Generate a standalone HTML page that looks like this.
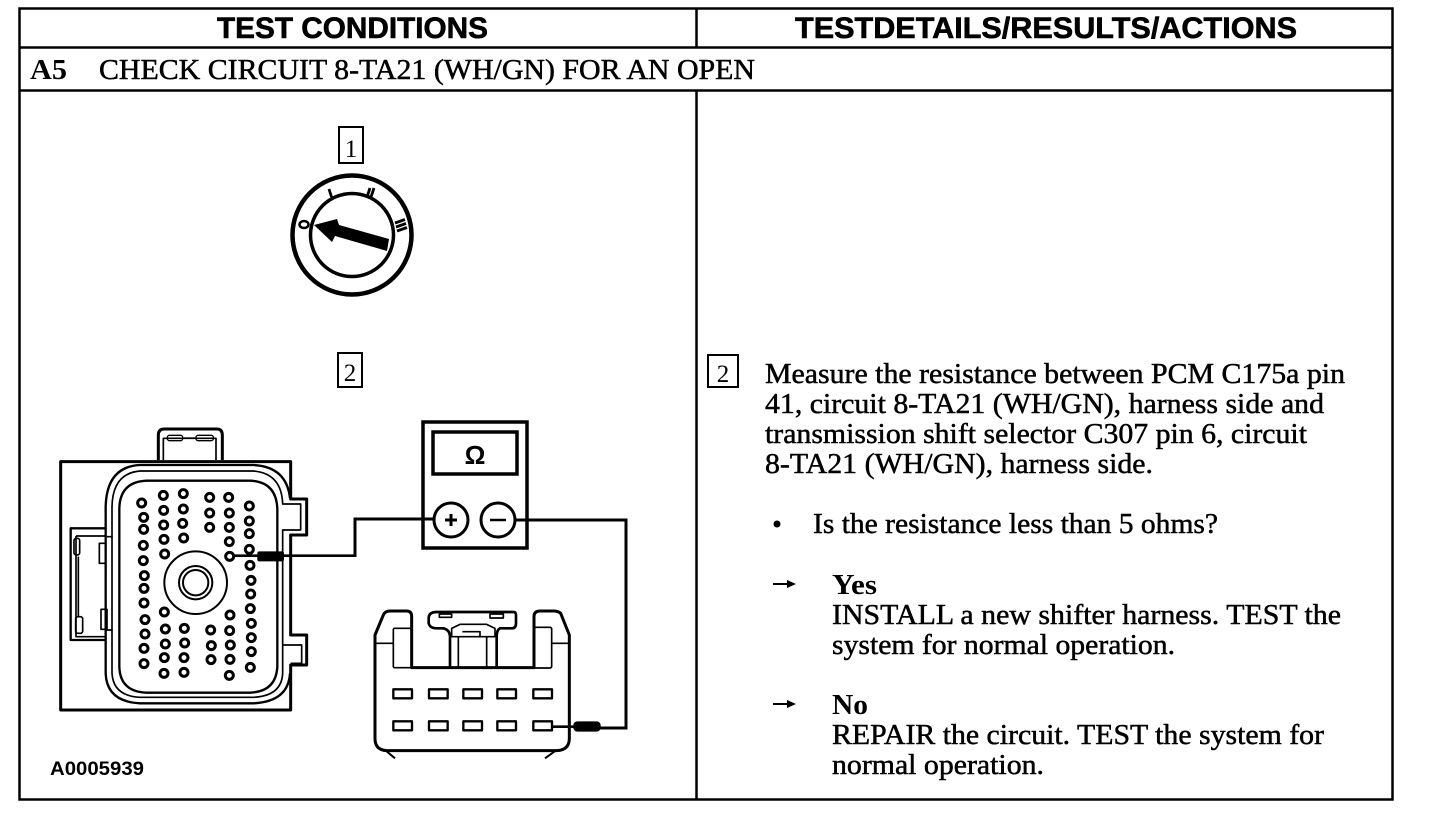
<!DOCTYPE html>
<html><head><meta charset="utf-8"><style>
html,body{margin:0;padding:0;background:#fff;width:1440px;height:818px;overflow:hidden}
svg{display:block}
.h{font:bold 30px "Liberation Sans",sans-serif}
.t{font:bold 28px "Liberation Serif",serif}
.s{font:29px "Liberation Serif",serif}
text{fill:#000}
</style></head><body>
<svg width="1440" height="818" viewBox="0 0 1440 818" xmlns="http://www.w3.org/2000/svg">
<g fill="none" stroke="#000" stroke-width="2.5">
<rect x="19.500" y="8.500" width="1373" height="791"/>
<path d="M19 47.500H1393M19 90.500H1393M696.500 8V47M696.500 90V800"/>
</g>
<text class="h" x="217" y="38" textLength="271" lengthAdjust="spacingAndGlyphs" stroke="#000" stroke-width=".6">TEST CONDITIONS</text>
<text class="h" x="795" y="38" textLength="502" lengthAdjust="spacingAndGlyphs" stroke="#000" stroke-width=".6">TESTDETAILS/RESULTS/ACTIONS</text>
<text class="t" x="30" y="79" textLength="37" lengthAdjust="spacingAndGlyphs">A5</text>
<text class="s" x="99" y="79" textLength="656" lengthAdjust="spacingAndGlyphs" stroke="#000" stroke-width=".5">CHECK CIRCUIT 8-TA21 (WH/GN) FOR AN OPEN</text>

<!-- numbered boxes -->
<g fill="none" stroke="#000" stroke-width="2">
<rect x="339" y="127" width="24" height="36"/>
<rect x="338" y="353" width="24" height="34"/>
<rect x="708" y="355" width="30" height="32"/>
</g>
<text x="351" y="157" text-anchor="middle" style="font:25px 'Liberation Serif',serif">1</text>
<text x="350" y="381" text-anchor="middle" style="font:25px 'Liberation Serif',serif">2</text>
<text x="723" y="382" text-anchor="middle" style="font:25px 'Liberation Serif',serif">2</text>

<!-- ignition switch -->
<g fill="none" stroke="#000">
<circle cx="352" cy="235" r="59.500" stroke-width="4.500"/>
<circle cx="352" cy="235" r="41.500" stroke-width="3.500"/>
<path d="M329 189l2.500 8M374 188l-3 9M370 188l-3 9M395 223l10 -3.500M396 227l10 -3.500M397 231l10 -3.500" stroke-width="2.800"/>
<ellipse cx="304" cy="224.500" rx="4.500" ry="3.500" stroke-width="2.500"/>
</g>
<path d="M314 225L337 219L339 225L389 239L387 251L335 236L332 242Z" fill="#000"/>

<!-- left connector (coordinates from 3x crop) -->
<g transform="translate(40 410) scale(.33333)">
<g fill="none" stroke="#000" stroke-linejoin="round">
<path d="M355 150V75Q355 57 373 57H530Q547 57 547 75V150" stroke-width="9"/>
<path d="M370 150V85H528V150" stroke-width="5"/>
<rect x="382" y="76" width="46" height="16" rx="6" stroke-width="4"/>
<rect x="468" y="76" width="52" height="16" rx="6" stroke-width="4"/>
<path d="M428 84H468" stroke-width="4"/>
<path d="M62 155H752V267H800V375H752V675H800V765H752V900H62Z" stroke-width="9" fill="#fff"/>
<path d="M195 355H92V690H195" stroke-width="7" fill="#fff"/>
<path d="M108 378H195M108 378V680H195M115 440V620M200 380H218M200 660H218" stroke-width="5"/>
<rect x="102" y="385" width="17" height="50" rx="7" stroke-width="5"/>
<rect x="107" y="620" width="21" height="50" rx="7" stroke-width="5"/>
<rect x="178" y="400" width="18" height="60" stroke-width="5"/>
<rect x="183" y="598" width="18" height="60" stroke-width="5"/>
<path d="M300 165Q200 170 197 290V790Q200 875 300 880H640Q745 875 750 790M300 165H640Q740 170 750 265" stroke-width="7"/>
<path d="M640 183H300Q218 190 216 290V790Q220 858 300 862H640Q725 858 728 790V705H785V760H752M728 705V360H782V282H728Q725 190 640 183" stroke-width="5"/>
<path d="M320 212Q240 215 238 295V770Q240 845 320 848H630Q708 845 712 770V295Q708 215 630 212Z" stroke-width="7"/>
<circle cx="467" cy="518" r="94" stroke-width="6"/>
<circle cx="467" cy="518" r="50" stroke-width="6"/>
<circle cx="467" cy="518" r="38" stroke-width="6"/>
<g stroke-width="9">
<circle cx="305" cy="279" r="12"/><circle cx="311" cy="322" r="12"/><circle cx="311" cy="358" r="12"/><circle cx="310" cy="406" r="12"/><circle cx="310" cy="452" r="12"/><circle cx="313" cy="497" r="12"/><circle cx="312" cy="535" r="12"/><circle cx="312" cy="579" r="12"/><circle cx="315" cy="629" r="12"/><circle cx="315" cy="672" r="12"/><circle cx="312" cy="715" r="12"/><circle cx="312" cy="761" r="12"/>
<circle cx="370" cy="256" r="12"/><circle cx="371" cy="301" r="12"/><circle cx="371" cy="345" r="12"/><circle cx="372" cy="388" r="12"/><circle cx="374" cy="432" r="12"/><circle cx="373" cy="606" r="12"/><circle cx="376" cy="657" r="12"/><circle cx="376" cy="702" r="12"/><circle cx="373" cy="743" r="12"/><circle cx="372" cy="790" r="12"/>
<circle cx="430" cy="251" r="12"/><circle cx="430" cy="297" r="12"/><circle cx="428" cy="340" r="12"/><circle cx="431" cy="384" r="12"/><circle cx="433" cy="655" r="12"/><circle cx="434" cy="699" r="12"/><circle cx="432" cy="743" r="12"/><circle cx="432" cy="787" r="12"/>
<circle cx="509" cy="262" r="12"/><circle cx="509" cy="309" r="12"/><circle cx="509" cy="352" r="12"/><circle cx="512" cy="660" r="12"/><circle cx="514" cy="707" r="12"/><circle cx="513" cy="749" r="12"/>
<circle cx="566" cy="262" r="12"/><circle cx="568" cy="309" r="12"/><circle cx="568" cy="352" r="12"/><circle cx="568" cy="395" r="12"/><circle cx="569" cy="439" r="12"/><circle cx="570" cy="615" r="12"/><circle cx="569" cy="662" r="12"/><circle cx="571" cy="705" r="12"/><circle cx="570" cy="748" r="12"/><circle cx="568" cy="796" r="12"/>
<circle cx="628" cy="288" r="12"/><circle cx="628" cy="333" r="12"/><circle cx="628" cy="371" r="12"/><circle cx="628" cy="418" r="12"/><circle cx="630" cy="466" r="12"/><circle cx="633" cy="511" r="12"/><circle cx="632" cy="552" r="12"/><circle cx="631" cy="596" r="12"/><circle cx="634" cy="640" r="12"/><circle cx="634" cy="683" r="12"/><circle cx="634" cy="725" r="12"/><circle cx="631" cy="772" r="12"/>
</g>
<path d="M580 437H948" stroke-width="8"/>
</g>
<rect x="652" y="424" width="80" height="30" rx="6" fill="#000"/>
</g>

<!-- meter -->
<g fill="none" stroke="#000">
<rect x="423" y="422" width="104" height="126" stroke-width="3.500"/>
<rect x="433" y="432" width="84" height="42" stroke-width="3.500"/>
<circle cx="451" cy="520" r="17" stroke-width="3"/>
<circle cx="498" cy="520" r="17" stroke-width="3"/>
<path d="M451 514V526M445 520H457" stroke-width="3"/>
<path d="M490 520H506" stroke-width="2.500"/>
<path d="M355 557V519H434M515 520H626V728H590" stroke-width="3"/>
</g>
<text x="475" y="464" text-anchor="middle" style="font:bold 26px 'Liberation Sans',sans-serif">Ω</text>

<!-- right connector -->
<g transform="translate(340 410) scale(.33333)">
<g fill="none" stroke="#000" stroke-linejoin="round">
<path d="M105 675V985Q105 1020 140 1022H650Q688 1020 688 985V675L662 610Q655 603 640 603H600Q582 603 582 620V773H215V620Q215 603 200 603H150Q135 603 130 615Z" stroke-width="9"/>
<path d="M105 700H160M635 700H688M215 773V620" stroke-width="5"/>
<rect x="160" y="655" width="55" height="118" rx="4" stroke-width="5"/>
<rect x="582" y="652" width="53" height="122" rx="5" stroke-width="5"/>
<path d="M290 606H520Q528 606 528 615V640Q528 655 515 655H480Q470 660 470 680V773M290 606Q266 606 266 625V640Q270 655 290 655H310Q330 660 330 680V773" stroke-width="8"/>
<path d="M335 680V655L360 643H440L465 655V680ZM355 680V773M440 680V773M367 665H420V680M298 612H335V622H298ZM450 612H490V624H450Z" stroke-width="5"/>
<g stroke-width="7">
<rect x="160" y="838" width="56" height="27"/><rect x="267" y="838" width="56" height="27"/><rect x="370" y="838" width="56" height="27"/><rect x="472" y="838" width="56" height="27"/><rect x="580" y="838" width="56" height="27"/>
<rect x="160" y="934" width="56" height="27"/><rect x="267" y="934" width="56" height="27"/><rect x="370" y="934" width="56" height="27"/><rect x="472" y="934" width="56" height="27"/><rect x="580" y="934" width="56" height="27"/>
</g>
<path d="M636 950H705" stroke-width="8"/>
<path d="M135 1020L165 1045M650 1020L615 1045" stroke-width="6"/>
</g>
<rect x="700" y="934" width="82" height="31" rx="12" fill="#000"/>
</g>

<text x="50" y="775" textLength="94" lengthAdjust="spacingAndGlyphs" style="font:bold 19px 'Liberation Sans',sans-serif">A0005939</text>

<!-- right column text -->
<g>
<text class="s" x="765" y="383" textLength="580" lengthAdjust="spacingAndGlyphs" stroke="#000" stroke-width=".5">Measure the resistance between PCM C175a pin</text>
<text class="s" x="765" y="413" textLength="559" lengthAdjust="spacingAndGlyphs" stroke="#000" stroke-width=".5">41, circuit 8-TA21 (WH/GN), harness side and</text>
<text class="s" x="765" y="443" textLength="542" lengthAdjust="spacingAndGlyphs" stroke="#000" stroke-width=".5">transmission shift selector C307 pin 6, circuit</text>
<text class="s" x="765" y="473" textLength="388" lengthAdjust="spacingAndGlyphs" stroke="#000" stroke-width=".5">8-TA21 (WH/GN), harness side.</text>
<circle cx="777" cy="524" r="3.500" fill="#000"/>
<text class="s" x="813" y="533" textLength="405" lengthAdjust="spacingAndGlyphs" stroke="#000" stroke-width=".5">Is the resistance less than 5 ohms?</text>
<path d="M773 584H794" stroke="#000" stroke-width="2"/><path d="M787 580L796 584L787 588Z" fill="#000"/>
<text class="t" x="832" y="594" textLength="45" lengthAdjust="spacingAndGlyphs">Yes</text>
<text class="s" x="832" y="624" textLength="509" lengthAdjust="spacingAndGlyphs" stroke="#000" stroke-width=".5">INSTALL a new shifter harness. TEST the</text>
<text class="s" x="832" y="654" textLength="343" lengthAdjust="spacingAndGlyphs" stroke="#000" stroke-width=".5">system for normal operation.</text>
<path d="M773 704H794" stroke="#000" stroke-width="2"/><path d="M787 700L796 704L787 708Z" fill="#000"/>
<text class="t" x="832" y="714" textLength="36" lengthAdjust="spacingAndGlyphs">No</text>
<text class="s" x="832" y="744" textLength="492" lengthAdjust="spacingAndGlyphs" stroke="#000" stroke-width=".5">REPAIR the circuit. TEST the system for</text>
<text class="s" x="832" y="774" textLength="212" lengthAdjust="spacingAndGlyphs" stroke="#000" stroke-width=".5">normal operation.</text>
</g>
</svg>
</body></html>
